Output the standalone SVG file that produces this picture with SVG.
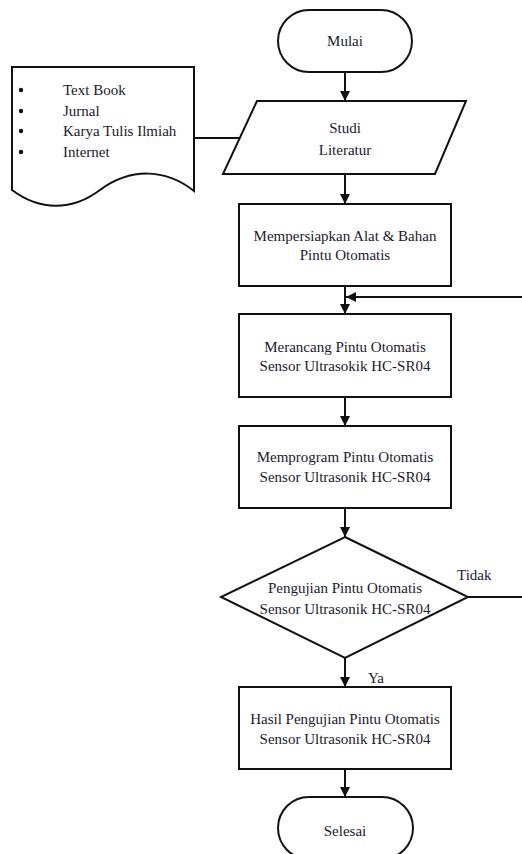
<svg xmlns="http://www.w3.org/2000/svg" width="522" height="854" viewBox="0 0 522 854">
<defs>
<marker id="ah" viewBox="0 0 10 10" refX="10" refY="5" markerWidth="10" markerHeight="10" markerUnits="userSpaceOnUse" orient="auto">
<path d="M0,0 L10,5 L0,10 Z" fill="#111"/>
</marker>
</defs>
<style>
.s{fill:#fff;stroke:#111;stroke-width:2}
.t{font-family:"Liberation Serif","Times New Roman",serif;font-size:15px;fill:#1a1a2e;text-anchor:middle}
.l{font-family:"Liberation Serif","Times New Roman",serif;font-size:15px;fill:#1a1a2e}
.c{fill:none;stroke:#111;stroke-width:2}
</style>
<rect width="522" height="854" fill="#fff"/>
<g id="connectors">
<line class="c" x1="345" y1="72" x2="345" y2="101" marker-end="url(#ah)"/>
<line class="c" x1="345" y1="174" x2="345" y2="204" marker-end="url(#ah)"/>
<line class="c" x1="194" y1="138" x2="241" y2="138"/>
<line class="c" x1="345" y1="286" x2="345" y2="314" marker-end="url(#ah)"/>
<line class="c" x1="522" y1="297" x2="346" y2="297" marker-end="url(#ah)"/>
<line class="c" x1="345" y1="397" x2="345" y2="426" marker-end="url(#ah)"/>
<line class="c" x1="345" y1="508" x2="345" y2="537" marker-end="url(#ah)"/>
<line class="c" x1="468" y1="597" x2="522" y2="597"/>
<line class="c" x1="345" y1="658" x2="345" y2="687" marker-end="url(#ah)"/>
<line class="c" x1="345" y1="769" x2="345" y2="797" marker-end="url(#ah)"/>
<text class="l" x="457" y="580">Tidak</text>
<text class="l" x="368" y="683">Ya</text>
</g>
<g id="mulai">
<rect class="s" x="278" y="10" width="134" height="62" rx="31" ry="31"/>
<text class="t" x="345" y="46">Mulai</text>
</g>
<g id="sumber">
<path class="s" d="M12,67 H194 V191 C165,168 130,168 100,190 C72,211 40,211 12,190 Z"/>
<circle cx="21" cy="90" r="2.2" fill="#111"/>
<circle cx="21" cy="111" r="2.2" fill="#111"/>
<circle cx="21" cy="131" r="2.2" fill="#111"/>
<circle cx="21" cy="152" r="2.2" fill="#111"/>
<text class="l" x="63" y="95">Text Book</text>
<text class="l" x="63" y="116">Jurnal</text>
<text class="l" x="63" y="136">Karya Tulis Ilmiah</text>
<text class="l" x="63" y="157">Internet</text>
</g>
<g id="studi">
<polygon class="s" points="257,101 466,101 435,174 223,174"/>
<text class="t" x="345" y="133">Studi</text>
<text class="t" x="345" y="155">Literatur</text>
</g>
<g id="persiapan">
<rect class="s" x="239" y="204" width="212" height="82"/>
<text class="t" x="345" y="241">Mempersiapkan Alat &amp; Bahan</text>
<text class="t" x="345" y="260">Pintu Otomatis</text>
</g>
<g id="merancang">
<rect class="s" x="239" y="314" width="212" height="83"/>
<text class="t" x="345" y="352">Merancang Pintu Otomatis</text>
<text class="t" x="345" y="371">Sensor Ultrasokik HC-SR04</text>
</g>
<g id="memprogram">
<rect class="s" x="239" y="426" width="212" height="82"/>
<text class="t" x="345" y="462">Memprogram Pintu Otomatis</text>
<text class="t" x="345" y="482">Sensor Ultrasonik HC-SR04</text>
</g>
<g id="pengujian">
<polygon class="s" points="345,537 468,597 345,658 221,597"/>
<text class="t" x="345" y="593">Pengujian Pintu Otomatis</text>
<text class="t" x="345" y="614">Sensor Ultrasonik HC-SR04</text>
</g>
<g id="hasil">
<rect class="s" x="239" y="687" width="212" height="82"/>
<text class="t" x="345" y="724">Hasil Pengujian Pintu Otomatis</text>
<text class="t" x="345" y="744">Sensor Ultrasonik HC-SR04</text>
</g>
<g id="selesai">
<rect class="s" x="278" y="797" width="135" height="62" rx="31" ry="31"/>
<text class="t" x="345" y="836">Selesai</text>
</g>
</svg>
